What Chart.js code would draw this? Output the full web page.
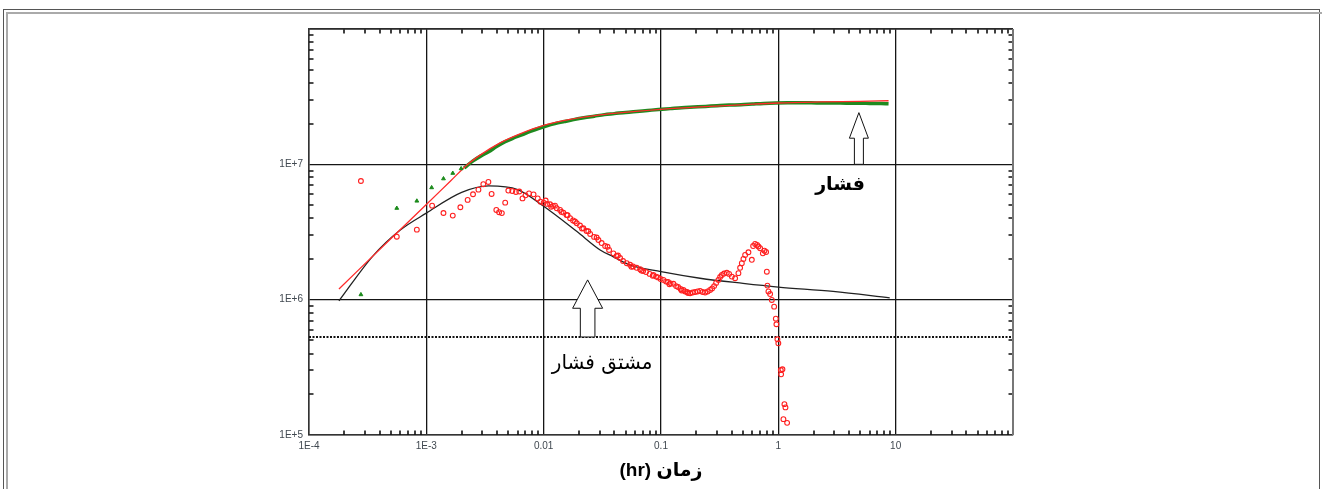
<!DOCTYPE html>
<html lang="fa">
<head>
<meta charset="utf-8">
<script src="https://cdn.jsdelivr.net/npm/chart.js@4.4.1/dist/chart.umd.min.js"></script>
<style>
  html, body { margin: 0; padding: 0; background: #fff; width: 1322px; height: 489px; overflow: hidden; }
  #frameOuter { position: absolute; left: 3px; top: 9px; width: 1317px; height: 600px; border: 1px solid #555; box-sizing: border-box; }
  #frameInner { position: absolute; left: 6px; top: 12px; width: 1320px; height: 600px; border-top: 2px solid #aaa; border-left: 2px solid #aaa; box-sizing: border-box; }
  #wrap { position: absolute; left: 0; top: 0; width: 1322px; height: 489px; }
</style>
</head>
<body>
<div id="frameOuter"></div>
<div id="frameInner"></div>
<div id="wrap"><canvas id="c" width="1322" height="489"></canvas></div>
<script>
// ---------------- DATA ----------------
const xTickValues = [1e-4, 1e-3, 1e-2, 1e-1, 1, 10, 100];
const xTickLabels = ['1E-4', '1E-3', '0.01', '0.1', '1', '10', ''];
const yTickValues = [1e5, 1e6, 1e7, 1e8];
const yTickLabels = ['1E+5', '1E+6', '1E+7', ''];
const xAxisTitle = '\u202Bزمان (hr)\u202C';
const pressureLabel = 'فشار';
const derivativeLabel = 'مشتق فشار';

// Pressure model (red line)
const pressureModelTime = [1.8e-4, 5e-4, 1e-3, 1.6e-3, 2.27e-3, 2.87e-3, 4.25e-3, 6.29e-3, 0.01, 0.0168, 0.0303, 0.0546, 0.1, 0.215, 0.472, 1, 2.27, 4.98, 8.7];
const pressureModel     = [1.2e6, 2.83e6, 5.05e6, 7.5e6, 1.006e7, 1.17e7, 1.44e7, 1.68e7, 1.94e7, 2.15e7, 2.32e7, 2.44e7, 2.55e7, 2.66e7, 2.75e7, 2.84e7, 2.89e7, 2.92e7, 2.95e7];

// Pressure derivative model (black line)
const derivModelTime = [1.8e-4, 3.5e-4, 6e-4, 1e-3, 2e-3, 3.4e-3, 6e-3, 0.01, 0.0191, 0.0303, 0.039, 0.0545, 0.1, 0.215, 0.5, 1, 2.93, 8.9];
const derivModel     = [9.8e5, 2.1e6, 3.27e6, 4.36e6, 6.2e6, 6.92e6, 6.5e6, 4.9e6, 3.2e6, 2.33e6, 2.08e6, 1.8e6, 1.61e6, 1.44e6, 1.32e6, 1.24e6, 1.15e6, 1.03e6];

// Measured pressure, early scattered points (green)
const pressureEarlyTime = [2.77e-4, 5.6e-4, 8.3e-4, 1.11e-3, 1.40e-3, 1.68e-3, 1.98e-3];
const pressureEarly     = [1.09e6, 4.74e6, 5.36e6, 6.73e6, 7.83e6, 8.6e6, 9.3e6];

// Measured pressure, dense part (green)
const pressureDataTime = [0.0021, 0.0025, 0.0029, 0.0034, 0.004, 0.0047, 0.0055, 0.0065, 0.0077, 0.009, 0.0105, 0.0125, 0.015, 0.018, 0.022, 0.027, 0.033, 0.04, 0.05, 0.062, 0.077, 0.095, 0.12, 0.15, 0.19, 0.24, 0.3, 0.38, 0.48, 0.6, 0.75, 0.95, 1.2, 1.5, 1.9, 2.4, 3.0, 3.8, 4.8, 6.0, 7.5, 8.7];
const pressureData     = [9.4e6, 1.06e7, 1.15e7, 1.24e7, 1.36e7, 1.47e7, 1.56e7, 1.65e7, 1.75e7, 1.84e7, 1.92e7, 2.0e7, 2.07e7, 2.14e7, 2.21e7, 2.27e7, 2.33e7, 2.37e7, 2.42e7, 2.46e7, 2.50e7, 2.54e7, 2.58e7, 2.62e7, 2.65e7, 2.68e7, 2.71e7, 2.74e7, 2.76e7, 2.79e7, 2.82e7, 2.84e7, 2.85e7, 2.85e7, 2.85e7, 2.84e7, 2.84e7, 2.83e7, 2.83e7, 2.82e7, 2.81e7, 2.8e7];

// Measured pressure derivative (red circles)
const derivDataTime = [
  2.77e-4, 5.6e-4, 8.3e-4, 1.12e-3, 1.40e-3, 1.68e-3, 1.95e-3, 2.25e-3, 2.5e-3, 2.78e-3,
  3.06e-3, 3.38e-3, 3.6e-3, 3.95e-3, 4.17e-3, 4.4e-3, 4.7e-3, 5.0e-3, 5.4e-3, 5.8e-3,
  6.2e-3, 6.6e-3, 7.0e-3, 7.5e-3, 8.2e-3, 8.9e-3, 9.4e-3,
  0.01, 0.0107, 0.01134, 0.012, 0.01293, 0.0138, 0.01472, 0.01567, 0.0168, 0.0178,
  0.01915, 0.0204, 0.0218, 0.0232, 0.0249, 0.0269, 0.0293, 0.0312, 0.0334, 0.0361,
  0.0393, 0.0418, 0.0448, 0.0475, 0.0511, 0.0545, 0.0578, 0.062, 0.0664, 0.0704,
  0.0746, 0.080, 0.0861, 0.0908, 0.0945, 0.0992, 0.1048, 0.1105, 0.1149, 0.1207,
  0.1276, 0.1345, 0.1399, 0.147, 0.1552, 0.1605, 0.1669, 0.177, 0.186, 0.1953,
  0.2051, 0.2154, 0.2262, 0.2377, 0.2496, 0.2621, 0.2726, 0.2836, 0.2949, 0.3085,
  0.3191, 0.33, 0.3451, 0.3639, 0.3807, 0.4015, 0.4283, 0.4569, 0.4724, 0.4884,
  0.5041, 0.5212, 0.5561, 0.5943, 0.6098, 0.6342, 0.6596, 0.6767, 0.6995, 0.7378,
  0.7613, 0.787, 0.798, 0.807, 0.8234, 0.851, 0.88, 0.921, 0.952, 0.963,
  0.982, 1.0, 1.05, 1.056, 1.084, 1.127, 1.15, 1.105, 1.188,
  0.0104, 0.0116, 0.0125, 0.0142, 0.0160, 0.0185, 0.0212, 0.0240, 0.0283, 0.0350,
  0.0430, 0.0560, 0.0680, 0.0850, 0.1180, 0.1500, 0.1700
];
const derivData = [
  7.53e6, 2.92e6, 3.29e6, 4.95e6, 4.37e6, 4.18e6, 4.82e6, 5.46e6, 6.01e6, 6.5e6,
  7.13e6, 7.41e6, 6.04e6, 4.6e6, 4.43e6, 4.36e6, 5.21e6, 6.4e6, 6.35e6, 6.25e6,
  6.3e6, 5.6e6, 5.9e6, 6.1e6, 6.0e6, 5.6e6, 5.3e6,
  5.21e6, 5.10e6, 5.07e6, 4.93e6, 4.74e6, 4.60e6, 4.40e6, 4.23e6, 4.0e6, 3.85e6,
  3.67e6, 3.53e6, 3.37e6, 3.22e6, 3.06e6, 2.91e6, 2.76e6, 2.62e6, 2.49e6, 2.33e6,
  2.20e6, 2.10e6, 2.03e6, 1.93e6, 1.86e6, 1.81e6, 1.76e6, 1.72e6, 1.68e6, 1.63e6,
  1.60e6, 1.55e6, 1.52e6, 1.48e6, 1.46e6, 1.42e6, 1.40e6, 1.36e6, 1.35e6, 1.32e6,
  1.31e6, 1.26e6, 1.24e6, 1.20e6, 1.18e6, 1.15e6, 1.14e6, 1.115e6, 1.13e6, 1.14e6,
  1.15e6, 1.16e6, 1.14e6, 1.13e6, 1.15e6, 1.18e6, 1.21e6, 1.26e6, 1.33e6, 1.40e6,
  1.47e6, 1.52e6, 1.56e6, 1.58e6, 1.55e6, 1.48e6, 1.44e6, 1.57e6, 1.72e6, 1.86e6,
  2.0e6, 2.14e6, 2.24e6, 1.97e6, 2.49e6, 2.58e6, 2.54e6, 2.47e6, 2.40e6, 2.20e6,
  2.30e6, 2.25e6, 1.61e6, 1.27e6, 1.15e6, 1.10e6, 9.95e5, 8.88e5, 7.24e5, 6.58e5,
  5.10e5, 4.76e5, 3.02e5, 2.81e5, 3.06e5, 1.69e5, 1.60e5, 1.31e5, 1.23e5,
  5.4e6, 4.85e6, 4.95e6, 4.45e6, 4.2e6, 3.78e6, 3.36e6, 3.2e6, 2.88e6, 2.46e6,
  2.12e6, 1.75e6, 1.64e6, 1.50e6, 1.30e6, 1.17e6, 1.12e6
];

// Horizontal dotted reference level
const refLevelTime = [1e-4, 100];
const refLevel = [5.3e5, 5.3e5];

// ---------------- HELPERS ----------------
const pts = (xs, ys) => xs.map((x, i) => ({ x: x, y: ys[i] }));

// annotation anchors (data coordinates) – layout only
const annotations = {
  pressureText: { x: 3.36, y: 7.05e6 },
  derivText: { x: 0.0315, y: 3.35e5 },
  arrow1: { x: 4.86, yBase: 1e7, yTip: 2.41e7, yHead: 1.56e7, headHalf: 9.5, shaftHalf: 4.5 },
  arrow2: { x: 0.0237, yBase: 5.3e5, yTip: 1.40e6, yHead: 8.64e5, headHalf: 15, shaftHalf: 7.3 }
};

const decorPlugin = {
  id: 'decor',
  afterDatasetsDraw(chart) {
    const { ctx, chartArea: a, scales: { x, y } } = chart;
    ctx.save();
    // minor ticks
    ctx.strokeStyle = '#111';
    ctx.lineWidth = 1.6;
    ctx.beginPath();
    for (let e = -4; e < 2; e++) {
      for (let m = 2; m <= 9; m++) {
        const px = Math.round(x.getPixelForValue(m * Math.pow(10, e)));
        ctx.moveTo(px, a.bottom); ctx.lineTo(px, a.bottom - 4.5);
        ctx.moveTo(px, a.top); ctx.lineTo(px, a.top + 4.5);
      }
    }
    for (let e = 5; e < 8; e++) {
      for (let m = 2; m <= 9; m++) {
        const py = Math.round(y.getPixelForValue(m * Math.pow(10, e)));
        ctx.moveTo(a.left, py); ctx.lineTo(a.left + 4.5, py);
        ctx.moveTo(a.right, py); ctx.lineTo(a.right - 4.5, py);
      }
    }
    ctx.stroke();
    // frame: top and right
    ctx.strokeStyle = '#333';
    ctx.lineWidth = 1.5;
    ctx.beginPath();
    ctx.moveTo(a.left, a.top); ctx.lineTo(a.right, a.top);
    ctx.stroke();
    ctx.strokeStyle = '#777';
    ctx.lineWidth = 2;
    ctx.beginPath();
    ctx.moveTo(a.right, a.top); ctx.lineTo(a.right, a.bottom);
    ctx.stroke();

    // arrows
    const drawArrow = (ar) => {
      const cx = x.getPixelForValue(ar.x);
      const yb = y.getPixelForValue(ar.yBase);
      const yt = y.getPixelForValue(ar.yTip);
      const yh = y.getPixelForValue(ar.yHead);
      ctx.beginPath();
      ctx.moveTo(cx, yt);
      ctx.lineTo(cx + ar.headHalf, yh);
      ctx.lineTo(cx + ar.shaftHalf, yh);
      ctx.lineTo(cx + ar.shaftHalf, yb);
      ctx.lineTo(cx - ar.shaftHalf, yb);
      ctx.lineTo(cx - ar.shaftHalf, yh);
      ctx.lineTo(cx - ar.headHalf, yh);
      ctx.closePath();
      ctx.fillStyle = '#fff';
      ctx.fill();
      ctx.strokeStyle = '#111';
      ctx.lineWidth = 1;
      ctx.stroke();
    };
    drawArrow(annotations.arrow1);
    drawArrow(annotations.arrow2);

    // labels
    ctx.fillStyle = '#000';
    ctx.textAlign = 'center';
    ctx.textBaseline = 'middle';
    ctx.font = 'bold 19px "DejaVu Sans", sans-serif';
    ctx.fillText(pressureLabel, x.getPixelForValue(annotations.pressureText.x), y.getPixelForValue(annotations.pressureText.y));
    ctx.font = '20px "DejaVu Sans", sans-serif';
    ctx.fillText(derivativeLabel, x.getPixelForValue(annotations.derivText.x), y.getPixelForValue(annotations.derivText.y));
    ctx.restore();
  }
};

const tickFont = { family: '"Liberation Sans", Arial, sans-serif', size: 10 };
const tickColor = '#404850';

new Chart(document.getElementById('c'), {
  type: 'scatter',
  data: {
    datasets: [
      {
        label: 'derivative data',
        data: pts(derivDataTime, derivData),
        showLine: false,
        pointStyle: 'circle',
        pointRadius: 2.4,
        pointBorderWidth: 1.1,
        borderColor: '#ff1f1f',
        backgroundColor: 'rgba(255,255,255,0)',
        order: 0
      },
      {
        label: 'pressure early',
        data: pts(pressureEarlyTime, pressureEarly),
        showLine: false,
        pointStyle: 'triangle',
        pointRadius: 2.2,
        borderColor: '#1a8a1a',
        backgroundColor: '#1a8a1a',
        order: 1
      },
      {
        label: 'pressure model',
        data: pts(pressureModelTime, pressureModel),
        showLine: true,
        cubicInterpolationMode: 'monotone',
        borderColor: '#ff2a2a',
        borderWidth: 1.3,
        pointRadius: 0,
        order: 2
      },
      {
        label: 'pressure data',
        data: pts(pressureDataTime, pressureData),
        showLine: true,
        cubicInterpolationMode: 'monotone',
        borderColor: '#1f8a1f',
        borderWidth: 3.5,
        pointRadius: 0,
        order: 3
      },
      {
        label: 'derivative model',
        data: pts(derivModelTime, derivModel),
        showLine: true,
        cubicInterpolationMode: 'monotone',
        borderColor: '#222',
        borderWidth: 1.3,
        pointRadius: 0,
        order: 4
      },
      {
        label: 'reference',
        data: pts(refLevelTime, refLevel),
        showLine: true,
        borderColor: '#111',
        borderWidth: 2,
        borderDash: [2, 1.5],
        pointRadius: 0,
        order: 5
      }
    ]
  },
  options: {
    responsive: false,
    animation: false,
    events: [],
    layout: { padding: { left: 0, top: 29, right: 309, bottom: 0 } },
    plugins: { legend: { display: false }, tooltip: { enabled: false } },
    scales: {
      x: {
        type: 'logarithmic',
        position: 'bottom',
        min: 1e-4,
        max: 100,
        afterBuildTicks: (axis) => { axis.ticks = xTickValues.map(v => ({ value: v })); },
        afterFit: (axis) => { axis.height = 54; },
        ticks: {
          autoSkip: false,
          maxRotation: 0,
          padding: 5,
          color: tickColor,
          font: tickFont,
          callback: (v, i) => xTickLabels[i]
        },
        grid: { color: '#151515', lineWidth: 1.3, drawTicks: false },
        border: { display: true, color: '#333', width: 1.5 },
        title: {
          display: true,
          text: xAxisTitle,
          color: '#000',
          font: { family: '"Liberation Sans", "DejaVu Sans", sans-serif', size: 19, weight: 'bold' },
          padding: { top: 0, bottom: 7 }
        }
      },
      y: {
        type: 'logarithmic',
        position: 'left',
        min: 1e5,
        max: 1e8,
        afterBuildTicks: (axis) => { axis.ticks = yTickValues.map(v => ({ value: v })); },
        afterFit: (axis) => { axis.width = 309; },
        ticks: {
          autoSkip: false,
          padding: 6,
          color: tickColor,
          font: tickFont,
          callback: (v, i) => yTickLabels[i]
        },
        grid: { color: '#151515', lineWidth: 1.3, drawTicks: false },
        border: { display: true, color: '#333', width: 1.5 }
      }
    }
  },
  plugins: [decorPlugin]
});
</script>
</body>
</html>
